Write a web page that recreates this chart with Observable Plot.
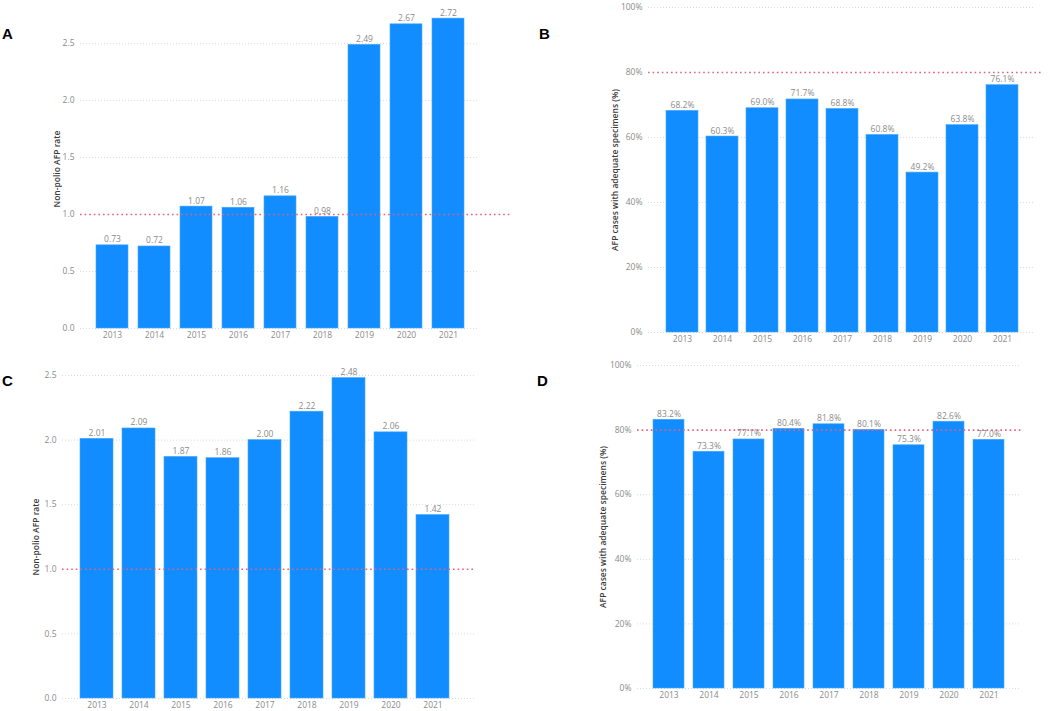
<!DOCTYPE html>
<html>
<head>
<meta charset="utf-8">
<script src="https://cdn.jsdelivr.net/npm/d3@7"></script>
<script src="https://cdn.jsdelivr.net/npm/@observablehq/plot@0.6"></script>
<style>
  html, body { margin: 0; padding: 0; background: #fff; }
  #root { position: relative; width: 1050px; height: 711px; overflow: hidden; background: #fff; }
  .panel { position: absolute; }
  .letter { position: absolute; font-family: "Liberation Sans", Arial, sans-serif; font-weight: bold; font-size: 15px; line-height: 15px; color: #000; }
</style>
</head>
<body>
<div id="root"></div>
<script>
// ---- data ----
const years = ["2013", "2014", "2015", "2016", "2017", "2018", "2019", "2020", "2021"];
const rateA = [0.73, 0.72, 1.07, 1.06, 1.16, 0.98, 2.49, 2.67, 2.72];
const adequacyB = [68.2, 60.3, 69.0, 71.7, 68.8, 60.8, 49.2, 63.8, 76.1];
const rateC = [2.01, 2.09, 1.87, 1.86, 2.00, 2.22, 2.48, 2.06, 1.42];
const adequacyD = [83.2, 73.3, 77.1, 80.4, 81.8, 80.1, 75.3, 82.6, 77.0];
const rateTicks = [0, 0.5, 1.0, 1.5, 2.0, 2.5];
const pctTicks = [0, 20, 40, 60, 80, 100];
const rateTarget = 1.0;
const pctTarget = 80;
const rateLabel = "Non-polio AFP rate";
const pctLabel = "AFP cases with adequate specimens (%)";
const panelLetters = ["A", "B", "C", "D"];

const root = document.getElementById("root");

function panel(cfg) {
  const data = years.map((y, i) => ({year: y, value: cfg.values[i]}));
  const chart = Plot.plot({
    width: cfg.width,
    height: cfg.height,
    marginLeft: cfg.marginLeft,
    marginRight: cfg.marginRight,
    marginTop: cfg.marginTop,
    marginBottom: cfg.marginBottom,
    style: {fontFamily: "'Open Sans', sans-serif", fontSize: "8.5px", color: "#8a8a8a", background: "transparent", overflow: "visible"},
    x: {type: "band", domain: years, range: cfg.xRange, paddingInner: cfg.padIn, paddingOuter: cfg.padIn / 2, align: 0.5, label: null, tickSize: 0, tickPadding: 3},
    y: {domain: cfg.yDomain, ticks: cfg.yTicks, tickFormat: cfg.yFmt, label: cfg.label, labelAnchor: "center", labelArrow: "none", labelOffset: cfg.labelOffset, tickSize: 0, tickPadding: 6},
    marks: [
      Plot.ruleY(cfg.yTicks.filter(t => t !== cfg.target), {stroke: "#d9d9d9", strokeDasharray: "1,2", strokeWidth: 1, insetRight: cfg.gridInsetRight}),
      Plot.barY(data, {x: "year", y: "value", fill: "#118DFF", stroke: "#4aa8ff", strokeWidth: 0.6}),
      Plot.ruleY([cfg.target], {stroke: "#e8607a", strokeDasharray: "1.6,3", strokeWidth: 1.6}),
      Plot.text(data, {x: "year", y: "value", text: d => cfg.valFmt(d.value), dy: -3, lineAnchor: "bottom", fill: "#8a8a8a"})
    ]
  });
  d3.select(chart).selectAll("text").filter(function () { return this.textContent === cfg.label; })
    .attr("fill", "#3a3a3a").attr("font-weight", "600");
  const div = document.createElement("div");
  div.className = "panel";
  div.style.left = cfg.left + "px";
  div.style.top = cfg.top + "px";
  div.appendChild(chart);
  root.appendChild(div);
  const L = document.createElement("div");
  L.className = "letter";
  L.style.left = cfg.letterLeft + "px";
  L.style.top = cfg.letterTop + "px";
  L.textContent = cfg.letter;
  root.appendChild(L);
}

const fmtRate = d3.format(".2f");
const fmtPct = d => d3.format(".1f")(d) + "%";

panel({
  left: 0, top: 0, width: 520, height: 350,
  marginLeft: 80, marginRight: 10, marginTop: 9, marginBottom: 22,
  xRange: [91, 469], padIn: 0.24,
  yDomain: [0, 2.8], yTicks: rateTicks, yFmt: d3.format(".1f"),
  values: rateA, valFmt: fmtRate, target: rateTarget,
  label: rateLabel, labelOffset: 27, gridInsetRight: 32,
  letter: panelLetters[0], letterLeft: 2, letterTop: 26
});
panel({
  left: 520, top: 0, width: 530, height: 350,
  marginLeft: 128, marginRight: 7, marginTop: 7, marginBottom: 18,
  xRange: [139.8, 503.2], padIn: 0.21,
  yDomain: [0, 100], yTicks: pctTicks, yFmt: d => d + "%",
  values: adequacyB, valFmt: fmtPct, target: pctTarget,
  label: pctLabel, labelOffset: 37, gridInsetRight: 10,
  letter: panelLetters[1], letterLeft: 539, letterTop: 26
});
panel({
  left: 0, top: 350, width: 520, height: 361,
  marginLeft: 62, marginRight: 45, marginTop: 25, marginBottom: 13,
  xRange: [72.7, 456.3], padIn: 0.225,
  yDomain: [0, 2.5], yTicks: rateTicks, yFmt: d3.format(".1f"),
  values: rateC, valFmt: fmtRate, target: rateTarget,
  label: rateLabel, labelOffset: 30, gridInsetRight: 0,
  letter: panelLetters[2], letterLeft: 2, letterTop: 373
});
panel({
  left: 520, top: 350, width: 530, height: 361,
  marginLeft: 117, marginRight: 28, marginTop: 15, marginBottom: 23,
  xRange: [127.4, 488.6], padIn: 0.23,
  yDomain: [0, 100], yTicks: pctTicks, yFmt: d => d + "%",
  values: adequacyD, valFmt: fmtPct, target: pctTarget,
  label: pctLabel, labelOffset: 38, gridInsetRight: 2,
  letter: panelLetters[3], letterLeft: 537, letterTop: 373
});
</script>
</body>
</html>
